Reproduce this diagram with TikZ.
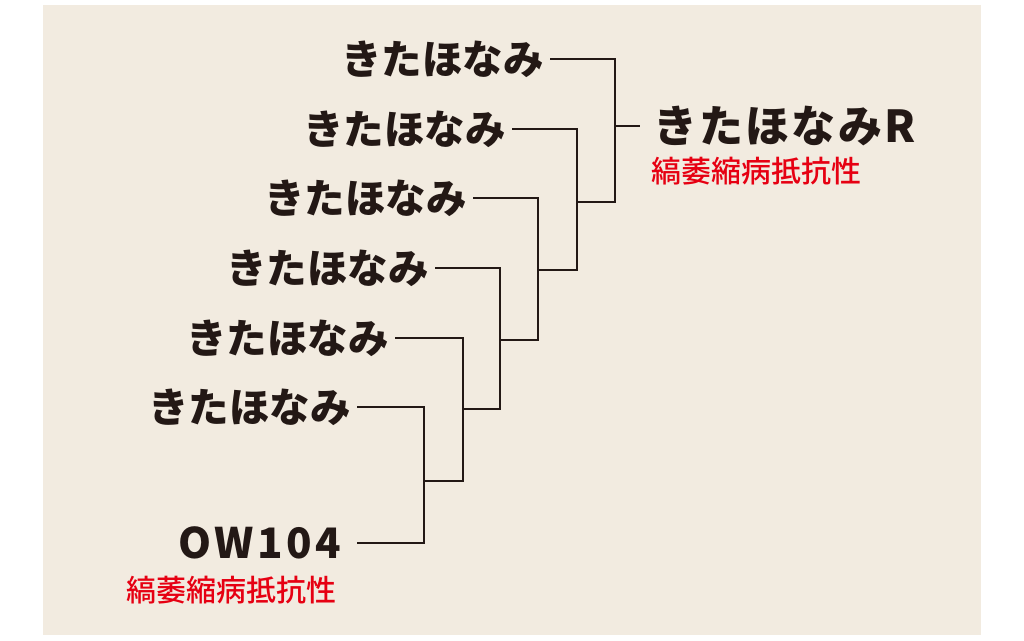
\documentclass[tikz,border=0pt]{standalone}
\usepackage{fontspec}
\newfontfamily\jpfont{Noto Sans CJK JP}
\newfontfamily\jpmed{Noto Sans CJK JP Medium}
\usetikzlibrary{positioning}
\definecolor{paper}{HTML}{F2EBE0}
\definecolor{ink}{HTML}{231815}
\definecolor{warn}{HTML}{E60012}

\begin{document}
\begin{tikzpicture}[x=1pt, y=-1pt,
		parent/.style={anchor=east, inner xsep=6pt, inner ysep=0pt, text=ink, font=\jpfont\bfseries\fontsize{40.5}{42}\selectfont},
		trait/.style={inner sep=0pt, text=warn, font=\jpmed\fontsize{30}{32}\selectfont},
		bracket/.style={draw=ink, line width=2.6pt}]
		
		\useasboundingbox (0,0) rectangle (1024,640);
		\fill[paper] (43,5) rectangle (981,635);
		
		%p1
		\node[parent] (p1) at (550,59) {きたほなみ};
		%p2
		\node[parent] (p2) at (512,129) {きたほなみ};
		%p3
		\node[parent] (p3) at (473,198) {きたほなみ};
		%p4
		\node[parent] (p4) at (435,268) {きたほなみ};
		%p5
		\node[parent] (p5) at (395,338) {きたほなみ};
		%p6
		\node[parent] (p6) at (357,407) {きたほなみ};
		%ow
		\node[parent, inner xsep=16pt, font=\jpfont\bfseries\fontsize{42}{44}\selectfont\addfontfeature{LetterSpace=8}] (ow) at (357,543) {OW104};
		\node[trait, anchor=east] (owres) at (337,590) {縞萎縮病抵抗性};
		%r
		\node[parent, anchor=west, inner xsep=13pt, font=\jpfont\bfseries\fontsize{44}{46}\selectfont\addfontfeature{LetterSpace=5}] (r) at (640,126) {きたほなみR};
		\node[trait, anchor=west] (rres) at (651,171) {縞萎縮病抵抗性};
		
		%joins
		\coordinate (j6) at (424,481);
		\coordinate (j5) at (463,409);
		\coordinate (j4) at (500,340);
		\coordinate (j3) at (538,270);
		\coordinate (j2) at (577,202);
		\coordinate (j1) at (615,126);
		
		\draw[bracket] (p6.east) -| (j6) |- (ow.east);
		\draw[bracket] (p5.east) -| (j5) |- (j6);
		\draw[bracket] (p4.east) -| (j4) |- (j5);
		\draw[bracket] (p3.east) -| (j3) |- (j4);
		\draw[bracket] (p2.east) -| (j2) |- (j3);
		\draw[bracket] (p1.east) -| (j1) |- (j2);
		\draw[bracket] (j1) -- (r.west);
		
\end{tikzpicture}
\end{document}
